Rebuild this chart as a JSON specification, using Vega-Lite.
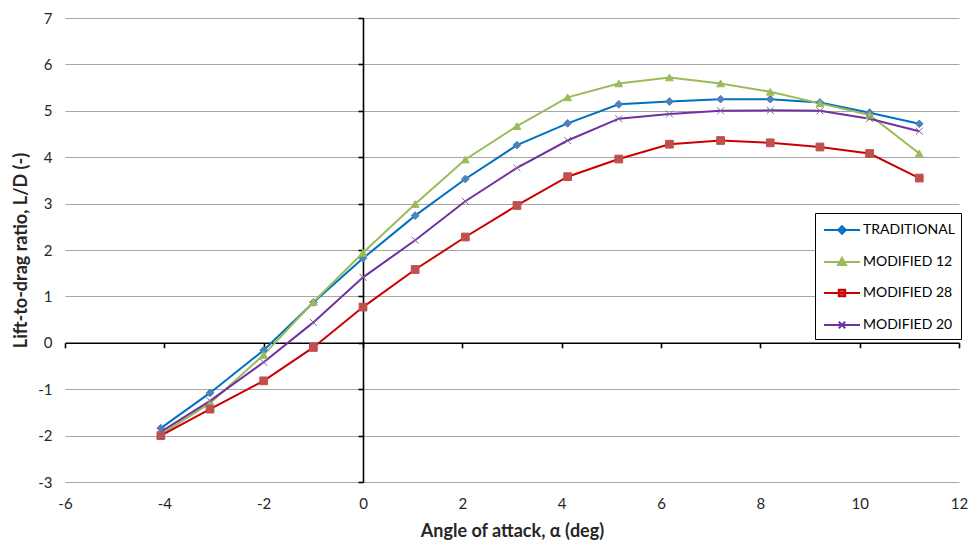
{
  "$schema": "https://vega.github.io/schema/vega-lite/v6.json",
  "width": 894,
  "height": 464,
  "autosize": {"type": "none"},
  "padding": {"left": 65, "top": 18, "right": 10, "bottom": 61},
  "background": "white",
  "config": {
    "view": {"stroke": null},
    "font": "Lato",
    "axis": {"labelFont": "Lato", "titleFont": "Lato", "labelColor": "#262626", "titleColor": "#262626"},
    "legend": {
      "orient": "none", "legendX": 750, "legendY": 195,
      "strokeColor": "#000000", "fillColor": "#FFFFFF", "padding": 6,
      "symbolSize": 400, "symbolStrokeWidth": 2, "symbolOffset": 10, "symbolOpacity": 1,
      "labelFont": "Lato", "labelFontSize": 14, "labelColor": "#000000", "labelOffset": 10,
      "rowPadding": 13
    }
  },
  "data": {
    "values": [
      {"series": "TRADITIONAL", "alpha": -4.07, "ld": -1.84},
      {"series": "TRADITIONAL", "alpha": -3.08, "ld": -1.08},
      {"series": "TRADITIONAL", "alpha": -2.0, "ld": -0.16},
      {"series": "TRADITIONAL", "alpha": -1.0, "ld": 0.87},
      {"series": "TRADITIONAL", "alpha": 0, "ld": 1.82},
      {"series": "TRADITIONAL", "alpha": 1.05, "ld": 2.74},
      {"series": "TRADITIONAL", "alpha": 2.06, "ld": 3.53},
      {"series": "TRADITIONAL", "alpha": 3.1, "ld": 4.26},
      {"series": "TRADITIONAL", "alpha": 4.12, "ld": 4.73},
      {"series": "TRADITIONAL", "alpha": 5.15, "ld": 5.14},
      {"series": "TRADITIONAL", "alpha": 6.17, "ld": 5.2},
      {"series": "TRADITIONAL", "alpha": 7.2, "ld": 5.25},
      {"series": "TRADITIONAL", "alpha": 8.2, "ld": 5.25},
      {"series": "TRADITIONAL", "alpha": 9.2, "ld": 5.18},
      {"series": "TRADITIONAL", "alpha": 10.2, "ld": 4.96},
      {"series": "TRADITIONAL", "alpha": 11.2, "ld": 4.72},
      {"series": "MODIFIED 12", "alpha": -4.07, "ld": -1.98},
      {"series": "MODIFIED 12", "alpha": -3.08, "ld": -1.3},
      {"series": "MODIFIED 12", "alpha": -2.0, "ld": -0.26},
      {"series": "MODIFIED 12", "alpha": -1.0, "ld": 0.88},
      {"series": "MODIFIED 12", "alpha": 0, "ld": 1.94},
      {"series": "MODIFIED 12", "alpha": 1.05, "ld": 2.99},
      {"series": "MODIFIED 12", "alpha": 2.06, "ld": 3.95},
      {"series": "MODIFIED 12", "alpha": 3.1, "ld": 4.67},
      {"series": "MODIFIED 12", "alpha": 4.12, "ld": 5.29},
      {"series": "MODIFIED 12", "alpha": 5.15, "ld": 5.59},
      {"series": "MODIFIED 12", "alpha": 6.17, "ld": 5.72},
      {"series": "MODIFIED 12", "alpha": 7.2, "ld": 5.59},
      {"series": "MODIFIED 12", "alpha": 8.2, "ld": 5.41},
      {"series": "MODIFIED 12", "alpha": 9.2, "ld": 5.16},
      {"series": "MODIFIED 12", "alpha": 10.2, "ld": 4.91},
      {"series": "MODIFIED 12", "alpha": 11.2, "ld": 4.08},
      {"series": "MODIFIED 28", "alpha": -4.07, "ld": -2.0},
      {"series": "MODIFIED 28", "alpha": -3.08, "ld": -1.43},
      {"series": "MODIFIED 28", "alpha": -2.0, "ld": -0.82},
      {"series": "MODIFIED 28", "alpha": -1.0, "ld": -0.1},
      {"series": "MODIFIED 28", "alpha": 0, "ld": 0.77},
      {"series": "MODIFIED 28", "alpha": 1.05, "ld": 1.58},
      {"series": "MODIFIED 28", "alpha": 2.06, "ld": 2.28},
      {"series": "MODIFIED 28", "alpha": 3.1, "ld": 2.96},
      {"series": "MODIFIED 28", "alpha": 4.12, "ld": 3.58},
      {"series": "MODIFIED 28", "alpha": 5.15, "ld": 3.96},
      {"series": "MODIFIED 28", "alpha": 6.17, "ld": 4.28},
      {"series": "MODIFIED 28", "alpha": 7.2, "ld": 4.36},
      {"series": "MODIFIED 28", "alpha": 8.2, "ld": 4.31},
      {"series": "MODIFIED 28", "alpha": 9.2, "ld": 4.22},
      {"series": "MODIFIED 28", "alpha": 10.2, "ld": 4.08},
      {"series": "MODIFIED 28", "alpha": 11.2, "ld": 3.55},
      {"series": "MODIFIED 20", "alpha": -4.07, "ld": -1.92},
      {"series": "MODIFIED 20", "alpha": -3.08, "ld": -1.25},
      {"series": "MODIFIED 20", "alpha": -2.0, "ld": -0.42},
      {"series": "MODIFIED 20", "alpha": -1.0, "ld": 0.44},
      {"series": "MODIFIED 20", "alpha": 0, "ld": 1.41},
      {"series": "MODIFIED 20", "alpha": 1.05, "ld": 2.21},
      {"series": "MODIFIED 20", "alpha": 2.06, "ld": 3.05},
      {"series": "MODIFIED 20", "alpha": 3.1, "ld": 3.77},
      {"series": "MODIFIED 20", "alpha": 4.12, "ld": 4.36},
      {"series": "MODIFIED 20", "alpha": 5.15, "ld": 4.83},
      {"series": "MODIFIED 20", "alpha": 6.17, "ld": 4.93},
      {"series": "MODIFIED 20", "alpha": 7.2, "ld": 5.0},
      {"series": "MODIFIED 20", "alpha": 8.2, "ld": 5.01},
      {"series": "MODIFIED 20", "alpha": 9.2, "ld": 5.0},
      {"series": "MODIFIED 20", "alpha": 10.2, "ld": 4.83},
      {"series": "MODIFIED 20", "alpha": 11.2, "ld": 4.56}
    ]
  },
  "layer": [
    {
      "mark": {"type": "line", "strokeWidth": 2},
      "encoding": {
        "x": {
          "field": "alpha", "type": "quantitative",
          "scale": {"domain": [-6, 12], "nice": false, "zero": false},
          "axis": {
            "values": [-6, -4, -2, 0, 2, 4, 6, 8, 10, 12],
            "labelExpr": "'' + datum.value",
            "domain": false, "ticks": false, "tickSize": 0, "grid": false,
            "labelPadding": 14, "labelFontSize": 15, "labelFlush": false, "labelOverlap": false,
            "title": "Angle of attack, α (deg)", "titleFontSize": 18, "titleFontWeight": "bold", "titlePadding": 11
          }
        },
        "y": {
          "field": "ld", "type": "quantitative",
          "scale": {"domain": [-3, 7], "nice": false, "zero": false},
          "axis": {
            "values": [-3, -2, -1, 0, 1, 2, 3, 4, 5, 6, 7],
            "labelExpr": "'' + datum.value",
            "domain": false, "ticks": false, "tickSize": 0, "grid": true,
            "gridColor": "#A6A6A6", "gridWidth": 1,
            "labelPadding": 13, "labelFontSize": 15, "labelOverlap": false,
            "title": "Lift-to-drag ratio, L/D (-)", "titleFontSize": 18, "titleFontWeight": "bold", "titlePadding": 7
          }
        },
        "stroke": {
          "field": "series", "type": "nominal",
          "scale": {"domain": ["TRADITIONAL", "MODIFIED 12", "MODIFIED 28", "MODIFIED 20"], "range": ["#0070C0", "#9BBB59", "#CC0000", "#7030A0"]},
          "legend": null
        }
      }
    },
    {
      "mark": {"type": "point", "filled": true, "opacity": 1, "strokeWidth": 1, "size": 60},
      "encoding": {
        "x": {
          "field": "alpha", "type": "quantitative",
          "axis": {
            "orient": "bottom", "offset": -139.2,
            "values": [-6, -4, -2, 0, 2, 4, 6, 8, 10, 12],
            "domain": true, "domainColor": "#000000", "domainWidth": 1.6,
            "ticks": true, "tickColor": "#000000", "tickSize": 5, "tickWidth": 1.6,
            "labels": false, "grid": false, "title": null
          }
        },
        "y": {
          "field": "ld", "type": "quantitative",
          "axis": {
            "orient": "left", "offset": -298,
            "values": [-3, -2, -1, 0, 1, 2, 3, 4, 5, 6, 7],
            "domain": true, "domainColor": "#000000", "domainWidth": 1.6,
            "ticks": true, "tickColor": "#000000", "tickSize": 5, "tickWidth": 1.6,
            "labels": false, "grid": false, "title": null
          }
        },
        "fill": {
          "field": "series", "type": "nominal",
          "scale": {"domain": ["TRADITIONAL", "MODIFIED 12", "MODIFIED 28", "MODIFIED 20"], "range": ["#4F81BD", "#9BBB59", "#C0504D", "#8064A2"]},
          "legend": null
        },
        "stroke": {
          "field": "series", "type": "nominal",
          "scale": {"domain": ["TRADITIONAL", "MODIFIED 12", "MODIFIED 28", "MODIFIED 20"], "range": ["#4F81BD", "#9BBB59", "#C0504D", "#8064A2"]},
          "legend": null
        },
        "shape": {
          "field": "series", "type": "nominal",
          "scale": {"domain": ["TRADITIONAL", "MODIFIED 12", "MODIFIED 28", "MODIFIED 20"], "range": ["diamond", "triangle-up", "square", "M-0.9,-0.9L0.9,0.9M0.9,-0.9L-0.9,0.9"]},
          "legend": null
        }
      }
    },
    {
      "transform": [{"filter": "datum.alpha > 100"}],
      "mark": {"type": "point", "filled": true, "opacity": 1},
      "encoding": {
        "x": {"field": "alpha", "type": "quantitative", "axis": null},
        "y": {"field": "ld", "type": "quantitative", "axis": null},
        "shape": {
          "field": "series", "type": "nominal",
          "scale": {"domain": ["TRADITIONAL", "MODIFIED 12", "MODIFIED 28", "MODIFIED 20"], "range": [
            "M-1.8,0H1.8M0,-0.38L0.38,0L0,0.38L-0.38,0Z",
            "M-1.8,0H1.8M0,-0.42L0.4,0.3L-0.4,0.3Z",
            "M-1.8,0H1.8M-0.32,-0.32H0.32V0.32H-0.32Z",
            "M-1.8,0H1.8M-0.32,-0.32L0.32,0.32M0.32,-0.32L-0.32,0.32"
          ]},
          "legend": {"title": null, "orient": "none", "legendX": 750, "legendY": 195}
        },
        "fill": {
          "field": "series", "type": "nominal",
          "scale": {"domain": ["TRADITIONAL", "MODIFIED 12", "MODIFIED 28", "MODIFIED 20"], "range": ["#4F81BD", "#9BBB59", "#C0504D", "#8064A2"]},
          "legend": {"title": null, "orient": "none", "legendX": 750, "legendY": 195}
        },
        "stroke": {
          "field": "series", "type": "nominal",
          "scale": {"domain": ["TRADITIONAL", "MODIFIED 12", "MODIFIED 28", "MODIFIED 20"], "range": ["#0070C0", "#9BBB59", "#CC0000", "#7030A0"]},
          "legend": {"title": null, "orient": "none", "legendX": 750, "legendY": 195}
        }
      }
    }
  ],
  "resolve": {
    "scale": {"fill": "independent", "stroke": "independent", "shape": "independent"},
    "axis": {"x": "independent", "y": "independent"}
  }
}
